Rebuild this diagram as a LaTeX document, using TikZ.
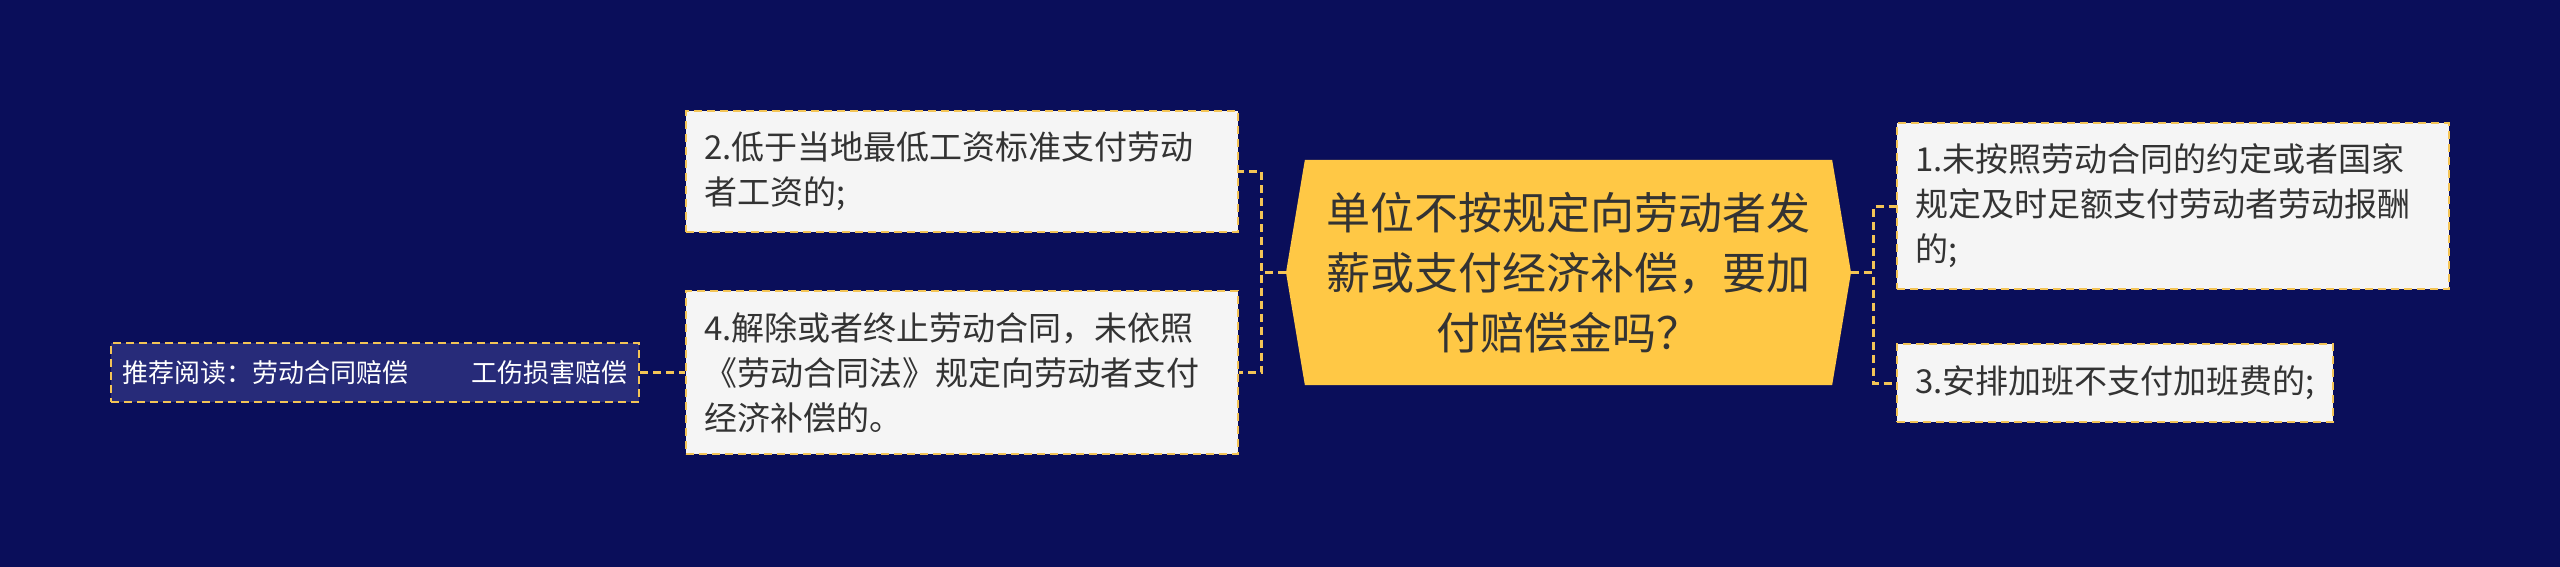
\documentclass[tikz,border=0pt]{standalone}
\usepackage{fontspec}
\setmainfont{Noto Sans CJK SC}
\usetikzlibrary{shapes.symbols,positioning}
\definecolor{bgnavy}{HTML}{0A0E5A}
\definecolor{topicyellow}{HTML}{FFC845}
\definecolor{linkyellow}{HTML}{F3C456}
\definecolor{boxgrey}{HTML}{F5F5F5}
\definecolor{leafnavy}{HTML}{272B79}
\definecolor{textgrey}{HTML}{333333}
\tikzset{
    topic/.style={
        signal,
        signal to=west and east,
        signal pointer angle=161,
        fill=topicyellow,
        text=textgrey,
        align=center,
        minimum width=565,
        minimum height=225,
        inner sep=0,
        font=\fontsize{44}{60}\selectfont
    },
    branch/.style={
        draw=linkyellow,
        line width=2.5,
        dash pattern=on 8 off 5,
        fill=boxgrey,
        text=textgrey,
        align=left,
        inner xsep=18,
        inner ysep=0,
        font=\fontsize{33}{45}\selectfont
    },
    leaf/.style={
        draw=linkyellow,
        line width=2.5,
        dash pattern=on 8 off 5,
        fill=leafnavy,
        text=white,
        inner sep=0,
        minimum width=528,
        minimum height=59,
        font=\fontsize{26}{30}\selectfont
    },
    link/.style={
        draw=linkyellow,
        line width=3,
        dash pattern=on 8 off 5
    }
}

\begin{document}
\begin{tikzpicture}[x=1pt,y=-1pt]
  \fill[bgnavy] (0,0) rectangle (2560,567);
  \useasboundingbox (0,0) rectangle (2560,567);

  \node[topic] (Q) at (1568.5,272.5) {单位不按规定向劳动者发\\薪或支付经济补偿，要加\\付赔偿金吗？};

  \node[branch, text width=516, minimum height=121] (B2) at (962,171.5)
    {2.低于当地最低工资标准支付劳动\\者工资的;};
  \node[branch, text width=516, minimum height=163] (B4) at (962,372.5)
    {4.解除或者终止劳动合同，未依照\\《劳动合同法》规定向劳动者支付\\经济补偿的。};
  \node[leaf] (R) at (375,372.5) {推荐阅读：劳动合同赔偿\hspace{63pt}工伤损害赔偿};

  \node[branch, text width=516, minimum height=166] (B1) at (2173,206)
    {1.未按照劳动合同的约定或者国家\\规定及时足额支付劳动者劳动报酬\\的;};
  \node[branch, minimum width=436, minimum height=78] (B3) at (2115,383)
    {3.安排加班不支付加班费的;};

  \draw[link] (Q.west) -- ++(-24,0) |- (B2.east);
  \draw[link] (Q.west) -- ++(-24,0) |- (B4.east);
  \draw[link] (Q.east) -- ++(22,0) |- (B1.west);
  \draw[link] (Q.east) -- ++(22,0) |- (B3.west);
  \draw[link] (R.east) -- (B4.west);

\end{tikzpicture}
\end{document}
